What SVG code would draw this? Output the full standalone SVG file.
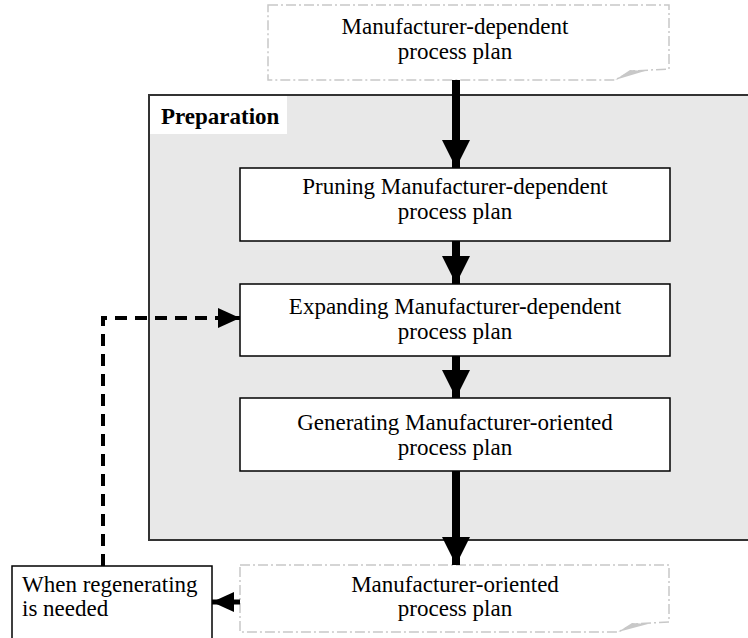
<svg xmlns="http://www.w3.org/2000/svg" width="748" height="638" viewBox="0 0 748 638">
  <style>
    .t { font-family: "Liberation Serif", "Times New Roman", serif; font-size: 23px; fill: #000; }
    .c { text-anchor: middle; }
    .b { font-weight: bold; }
    .box { fill: #fff; stroke: #000; stroke-width: 1.5; }
    .doc { fill: #fff; stroke: #c8c8c8; stroke-width: 1.5; stroke-dasharray: 10 3 2 3; }
    .curl { fill: #c8c8c8; stroke: none; }
    .flow { stroke: #000; stroke-width: 8; fill: none; }
    .dash { stroke: #000; stroke-width: 4; fill: none; stroke-dasharray: 12 8; }
  </style>
  <defs>
    <marker id="bigHead" markerUnits="userSpaceOnUse" markerWidth="28" markerHeight="28" refX="28" refY="14" orient="auto">
      <path d="M0,0 L28,14 L0,28 Z" fill="#000"/>
    </marker>
    <marker id="smallHead" markerUnits="userSpaceOnUse" markerWidth="22" markerHeight="20" refX="22" refY="10" orient="auto">
      <path d="M0,0 L22,10 L0,20 Z" fill="#000"/>
    </marker>
  </defs>
  <rect width="748" height="638" fill="#fff"/>

  <!-- Preparation stage container -->
  <g id="preparation">
    <rect x="149" y="95" width="610" height="445" fill="#e8e8e8" stroke="#333" stroke-width="2"/>
    <rect x="150" y="96" width="137" height="38" fill="#fff"/>
    <text class="t b" x="161" y="124">Preparation</text>
  </g>

  <!-- Input document -->
  <g id="doc-input">
    <path class="doc" d="M268,5 H669 V69 L632,71 L615,80 H268 Z"/>
    <path class="curl" d="M615,80 L630,70 L645,71 Z"/>
    <text class="t c" x="455" y="34">Manufacturer-dependent</text>
    <text class="t c" x="455" y="59">process plan</text>
  </g>

  <g id="step-pruning">
    <rect class="box" x="240" y="168" width="430" height="73"/>
    <text class="t c" x="455" y="194">Pruning Manufacturer-dependent</text>
    <text class="t c" x="455" y="219">process plan</text>
  </g>

  <g id="step-expanding">
    <rect class="box" x="240" y="284" width="430" height="72"/>
    <text class="t c" x="455" y="314">Expanding Manufacturer-dependent</text>
    <text class="t c" x="455" y="339">process plan</text>
  </g>

  <g id="step-generating">
    <rect class="box" x="240" y="398" width="430" height="73"/>
    <text class="t c" x="455" y="430">Generating Manufacturer-oriented</text>
    <text class="t c" x="455" y="455">process plan</text>
  </g>

  <!-- Output document -->
  <g id="doc-output">
    <path class="doc" d="M240,565 H669 V622 L634,624 L618,632 H240 Z"/>
    <path class="curl" d="M618,632 L632,623 L648,624 Z"/>
    <text class="t c" x="455" y="592">Manufacturer-oriented</text>
    <text class="t c" x="455" y="616">process plan</text>
  </g>

  <g id="regenerate-note">
    <rect class="box" x="12" y="566" width="200" height="80"/>
    <text class="t" x="22" y="592">When regenerating</text>
    <text class="t" x="22" y="616">is needed</text>
  </g>

  <!-- Connectors -->
  <g id="connectors">
    <line class="flow" x1="456" y1="80" x2="456" y2="168" marker-end="url(#bigHead)"/>
    <line class="flow" x1="456" y1="241" x2="456" y2="284" marker-end="url(#bigHead)"/>
    <line class="flow" x1="456" y1="356" x2="456" y2="398" marker-end="url(#bigHead)"/>
    <line class="flow" x1="456" y1="471" x2="456" y2="565" marker-end="url(#bigHead)"/>
    <line x1="240" y1="602" x2="212" y2="602" stroke="#000" stroke-width="5" marker-end="url(#smallHead)"/>
    <path class="dash" d="M103,566 V318 H240" marker-end="url(#smallHead)"/>
  </g>
</svg>
